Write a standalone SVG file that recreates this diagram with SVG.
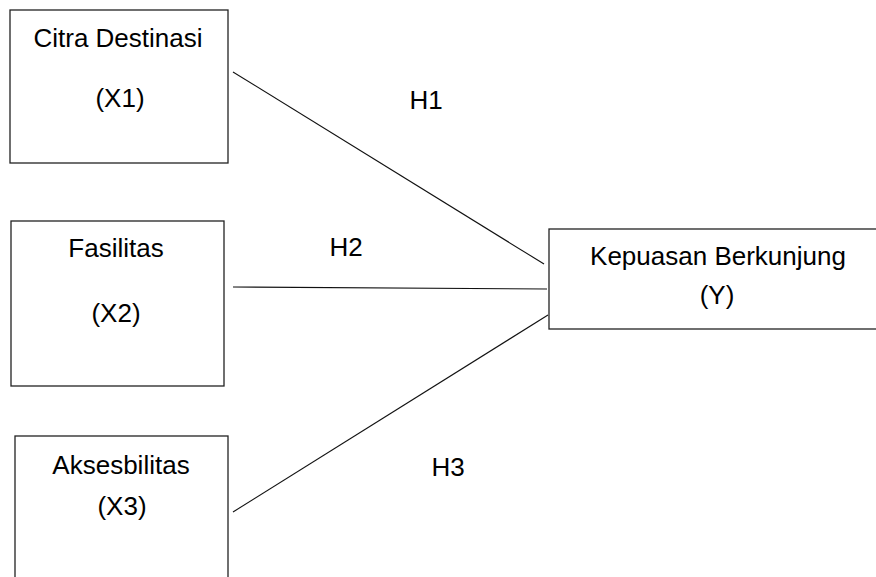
<svg xmlns="http://www.w3.org/2000/svg" width="876" height="577" viewBox="0 0 876 577">
<style>
.box{fill:#fff;stroke:#222;stroke-width:1.3}
.t{font-family:"Liberation Sans",Arial,sans-serif;font-size:26px;fill:#000;text-anchor:middle}
.c{stroke:#111;stroke-width:1.1;fill:none}
</style>
<rect width="876" height="577" fill="#fff"/>
<g id="x1">
<rect class="box" x="10" y="10" width="218" height="153"/>
<text class="t" x="118" y="47">Citra Destinasi</text>
<text class="t" x="120" y="107">(X1)</text>
</g>
<g id="x2">
<rect class="box" x="11" y="221" width="213" height="165"/>
<text class="t" x="116" y="257">Fasilitas</text>
<text class="t" x="116" y="322">(X2)</text>
</g>
<g id="x3">
<rect class="box" x="15" y="436" width="213" height="160"/>
<text class="t" x="121" y="474">Aksesbilitas</text>
<text class="t" x="122" y="515">(X3)</text>
</g>
<g id="y">
<rect class="box" x="549" y="229" width="340" height="100"/>
<text class="t" x="718" y="265">Kepuasan Berkunjung</text>
<text class="t" x="717" y="304">(Y)</text>
</g>
<g id="connectors">
<line class="c" x1="233" y1="72" x2="544" y2="264"/>
<line class="c" x1="233" y1="287" x2="547" y2="289"/>
<line class="c" x1="233" y1="512" x2="548" y2="315"/>
<text class="t" x="426" y="109">H1</text>
<text class="t" x="346" y="256">H2</text>
<text class="t" x="448" y="476">H3</text>
</g>
</svg>
